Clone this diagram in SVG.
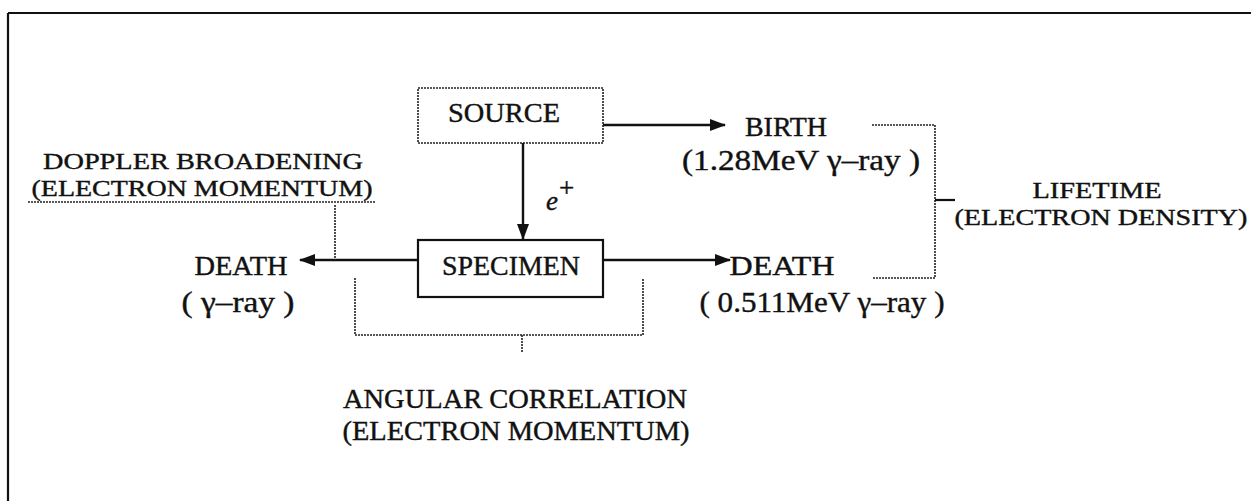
<svg xmlns="http://www.w3.org/2000/svg" width="1251" height="501" viewBox="0 0 1251 501">
<style>
text{font-family:"Liberation Serif","Times New Roman",serif;font-size:27px;fill:#111;stroke:#111;stroke-width:0.4;}
.big{font-size:29px;}
.sm{font-size:24px;}
.solid{stroke:#111;stroke-width:2.2;fill:none;}
.dot{stroke:#222;stroke-width:1.6;fill:none;stroke-dasharray:2 1;}
.arr{stroke:#111;stroke-width:2.4;fill:none;marker-end:url(#ah);}
</style>
<defs>
<marker id="ah" markerWidth="16" markerHeight="12" refX="15" refY="6" orient="auto" markerUnits="userSpaceOnUse">
<path d="M0,0 L16,6 L0,12 Z" fill="#111"/>
</marker>
</defs>
<rect width="1251" height="501" fill="#fff"/>
<g id="frame">
<line class="solid" x1="8" y1="13" x2="1251" y2="13"/>
<line class="solid" x1="8" y1="13" x2="8" y2="501"/>
</g>
<g id="source">
<rect class="dot" x="418" y="88" width="185" height="55"/>
<text x="504" y="122" text-anchor="middle" textLength="112" lengthAdjust="spacingAndGlyphs">SOURCE</text>
</g>
<g id="specimen">
<rect class="solid" x="418" y="240" width="185" height="57"/>
<text x="511" y="275" text-anchor="middle" textLength="138" lengthAdjust="spacingAndGlyphs">SPECIMEN</text>
</g>
<g id="birth">
<text x="786" y="136" text-anchor="middle" textLength="82" lengthAdjust="spacingAndGlyphs">BIRTH</text>
<text class="big" x="801" y="170" text-anchor="middle" textLength="238" lengthAdjust="spacingAndGlyphs">(1.28MeV γ–ray )</text>
</g>
<g id="death-right">
<text x="782" y="275" text-anchor="middle" textLength="105" lengthAdjust="spacingAndGlyphs">DEATH</text>
<text class="big" x="822" y="312" text-anchor="middle" textLength="245" lengthAdjust="spacingAndGlyphs">( 0.511MeV γ–ray )</text>
</g>
<g id="death-left">
<text x="241" y="275" text-anchor="middle" textLength="93" lengthAdjust="spacingAndGlyphs">DEATH</text>
<text class="big" x="238" y="312" text-anchor="middle" textLength="113" lengthAdjust="spacingAndGlyphs">( γ–ray )</text>
</g>
<g id="doppler">
<text class="sm" x="203" y="169" text-anchor="middle" textLength="320" lengthAdjust="spacingAndGlyphs">DOPPLER BROADENING</text>
<text class="sm" x="202" y="196" text-anchor="middle" textLength="341" lengthAdjust="spacingAndGlyphs">(ELECTRON MOMENTUM)</text>
</g>
<g id="lifetime">
<text class="sm" x="1097" y="198" text-anchor="middle" textLength="129" lengthAdjust="spacingAndGlyphs">LIFETIME</text>
<text class="sm" x="1101" y="225" text-anchor="middle" textLength="293" lengthAdjust="spacingAndGlyphs">(ELECTRON DENSITY)</text>
</g>
<g id="angular">
<text x="515" y="408" text-anchor="middle" textLength="344" lengthAdjust="spacingAndGlyphs">ANGULAR CORRELATION</text>
<text x="516" y="440" text-anchor="middle" textLength="347" lengthAdjust="spacingAndGlyphs">(ELECTRON MOMENTUM)</text>
</g>
<g id="connectors">
<line class="arr" x1="603" y1="125" x2="725" y2="125"/>
<line class="arr" x1="523" y1="143" x2="523" y2="239"/>
<text x="546" y="210" font-style="italic">e</text>
<text x="559" y="197" font-size="14">+</text>
<line class="arr" x1="603" y1="260" x2="730" y2="260"/>
<line class="arr" x1="418" y1="260" x2="300" y2="260"/>
<line class="dot" x1="28" y1="202" x2="375" y2="202"/>
<line class="dot" x1="335" y1="205" x2="335" y2="260"/>
<path class="dot" d="M872,125 H935 V278 H872"/>
<line class="solid" x1="935" y1="200" x2="955" y2="200"/>
<path class="dot" d="M355,278 V335 H643 V278"/>
<line class="dot" x1="522" y1="335" x2="522" y2="353"/>
</g>
</svg>
